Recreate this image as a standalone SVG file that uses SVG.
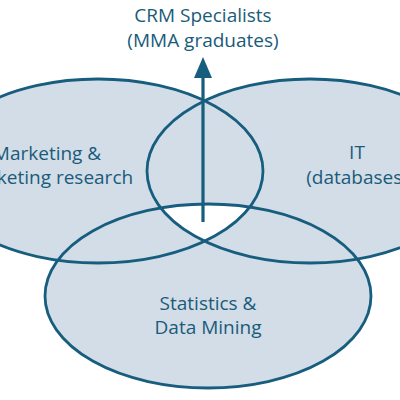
<svg xmlns="http://www.w3.org/2000/svg" width="400" height="400" viewBox="0 0 400 400">
  <defs>
    <style>
      .fill { fill: #d2dde8; stroke: none; }
      .edge { fill: none; stroke: #175d7e; stroke-width: 2.8; }
      .lbl { font-family: "Open Sans", "Noto Sans", "DejaVu Sans", sans-serif; font-size: 19px; fill: #1a5b7a; text-anchor: middle; }
    </style>
    <clipPath id="cL"><ellipse cx="98" cy="171" rx="165" ry="92"/></clipPath>
    <clipPath id="cR"><ellipse cx="310" cy="171" rx="163" ry="92"/></clipPath>
  </defs>
  <rect width="400" height="400" fill="#ffffff"/>

  <g id="fills">
    <ellipse class="fill" cx="98" cy="171" rx="165" ry="92"/>
    <ellipse class="fill" cx="310" cy="171" rx="163" ry="92"/>
    <ellipse class="fill" cx="208" cy="296" rx="163" ry="92"/>
    <g clip-path="url(#cL)"><g clip-path="url(#cR)">
      <ellipse cx="208" cy="296" rx="163" ry="92" fill="#ffffff"/>
    </g></g>
  </g>

  <g id="marketing">
    <ellipse class="edge" cx="98" cy="171" rx="165" ry="92"/>
    <text class="lbl" x="47" y="160">Marketing &amp;</text>
    <text class="lbl" x="47" y="184">marketing research</text>
  </g>
  <g id="it">
    <ellipse class="edge" cx="310" cy="171" rx="163" ry="92"/>
    <text class="lbl" x="357" y="159">IT</text>
    <text class="lbl" x="357" y="184">(databases)</text>
  </g>
  <g id="statistics">
    <ellipse class="edge" cx="208" cy="296" rx="163" ry="92"/>
    <text class="lbl" x="208" y="310">Statistics &amp;</text>
    <text class="lbl" x="208" y="334">Data Mining</text>
  </g>
  <g id="crm">
    <text class="lbl" x="203" y="22">CRM Specialists</text>
    <text class="lbl" x="203" y="47">(MMA graduates)</text>
  </g>

  <g id="connectors">
    <line x1="203" y1="222" x2="203" y2="76" stroke="#175d7e" stroke-width="3.2"/>
    <polygon points="203,57 194,78 212,78" fill="#175d7e"/>
  </g>
</svg>
